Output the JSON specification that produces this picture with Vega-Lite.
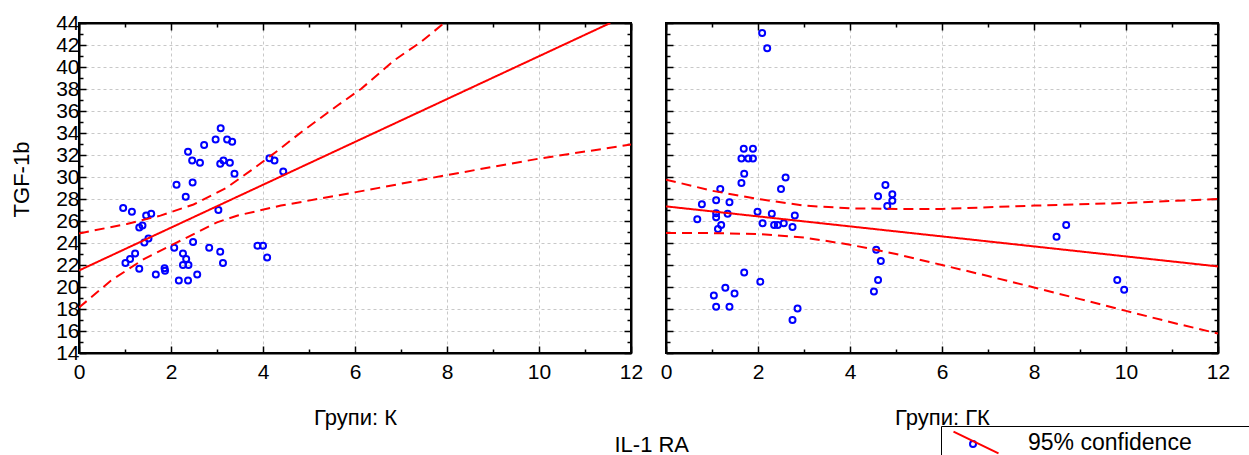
{
  "$schema": "https://vega.github.io/schema/vega-lite/v6.json",
  "background": "white",
  "padding": {"left": 5, "top": 11, "right": 5, "bottom": 5},
  "autosize": {"type": "pad"},
  "title": {"text": "IL-1 RA", "orient": "bottom", "anchor": "middle", "font": "Liberation Sans", "fontSize": 22, "fontWeight": "normal", "color": "black", "offset": -29, "dx": 8},
  "spacing": 15,
  "datasets": {
    "ptsK": [
      {"x": 3.08, "y": 34.44}, {"x": 2.97, "y": 33.4}, {"x": 3.22, "y": 33.4}, {"x": 3.33, "y": 33.2}, {"x": 2.72, "y": 32.9},
      {"x": 2.37, "y": 32.3}, {"x": 2.46, "y": 31.5}, {"x": 2.63, "y": 31.3}, {"x": 3.07, "y": 31.2}, {"x": 3.14, "y": 31.5},
      {"x": 3.28, "y": 31.3}, {"x": 4.14, "y": 31.7}, {"x": 4.25, "y": 31.5}, {"x": 3.38, "y": 30.3}, {"x": 4.44, "y": 30.5},
      {"x": 2.12, "y": 29.3}, {"x": 2.47, "y": 29.5}, {"x": 2.32, "y": 28.2}, {"x": 0.96, "y": 27.19}, {"x": 1.15, "y": 26.85},
      {"x": 1.46, "y": 26.5}, {"x": 1.57, "y": 26.67}, {"x": 3.03, "y": 27.0}, {"x": 1.31, "y": 25.42}, {"x": 1.38, "y": 25.6},
      {"x": 1.51, "y": 24.42}, {"x": 1.42, "y": 24.05}, {"x": 2.48, "y": 24.1}, {"x": 2.07, "y": 23.57}, {"x": 2.83, "y": 23.57},
      {"x": 3.07, "y": 23.2}, {"x": 2.26, "y": 23.05}, {"x": 3.88, "y": 23.75}, {"x": 4.0, "y": 23.75}, {"x": 1.22, "y": 23.05},
      {"x": 1.11, "y": 22.54}, {"x": 1.01, "y": 22.18}, {"x": 2.33, "y": 22.54}, {"x": 2.26, "y": 22.0}, {"x": 2.38, "y": 22.0},
      {"x": 3.13, "y": 22.18}, {"x": 4.09, "y": 22.69}, {"x": 1.31, "y": 21.66}, {"x": 1.67, "y": 21.14}, {"x": 1.86, "y": 21.7},
      {"x": 1.87, "y": 21.48}, {"x": 2.57, "y": 21.14}, {"x": 2.17, "y": 20.6}, {"x": 2.37, "y": 20.6}
    ],
    "ptsGK": [
      {"x": 2.09, "y": 43.09}, {"x": 2.2, "y": 41.7}, {"x": 1.69, "y": 32.56}, {"x": 1.89, "y": 32.56}, {"x": 1.64, "y": 31.68},
      {"x": 1.79, "y": 31.68}, {"x": 1.89, "y": 31.68}, {"x": 1.7, "y": 30.3}, {"x": 1.64, "y": 29.46}, {"x": 2.6, "y": 29.95},
      {"x": 2.5, "y": 28.9}, {"x": 1.18, "y": 28.9}, {"x": 4.77, "y": 29.28}, {"x": 4.61, "y": 28.24}, {"x": 4.92, "y": 28.43},
      {"x": 0.78, "y": 27.52}, {"x": 1.09, "y": 27.88}, {"x": 1.38, "y": 27.7}, {"x": 4.92, "y": 27.85}, {"x": 4.81, "y": 27.37},
      {"x": 0.68, "y": 26.15}, {"x": 1.09, "y": 26.7}, {"x": 1.09, "y": 26.33}, {"x": 1.34, "y": 26.67}, {"x": 1.2, "y": 25.64},
      {"x": 1.13, "y": 25.27}, {"x": 1.99, "y": 26.85}, {"x": 2.1, "y": 25.79}, {"x": 2.3, "y": 26.67}, {"x": 2.35, "y": 25.64},
      {"x": 2.43, "y": 25.64}, {"x": 2.56, "y": 25.79}, {"x": 2.75, "y": 25.46}, {"x": 2.8, "y": 26.51}, {"x": 4.57, "y": 23.39},
      {"x": 4.67, "y": 22.36}, {"x": 1.7, "y": 21.32}, {"x": 2.05, "y": 20.48}, {"x": 4.61, "y": 20.63}, {"x": 4.52, "y": 19.59},
      {"x": 1.29, "y": 19.93}, {"x": 1.49, "y": 19.41}, {"x": 1.04, "y": 19.23}, {"x": 1.09, "y": 18.2}, {"x": 1.38, "y": 18.2},
      {"x": 2.86, "y": 18.04}, {"x": 2.75, "y": 16.99}, {"x": 8.7, "y": 25.64}, {"x": 8.49, "y": 24.57}, {"x": 9.81, "y": 20.63},
      {"x": 9.96, "y": 19.75}
    ],
    "lineK": [
      {"kind": "fit", "x": 0, "y": 21.5}, {"kind": "fit", "x": 11.55, "y": 44.0},
      {"kind": "hi", "x": 0, "y": 24.87}, {"kind": "hi", "x": 1.04, "y": 25.73}, {"kind": "hi", "x": 1.77, "y": 26.49},
      {"kind": "hi", "x": 2.49, "y": 27.5}, {"kind": "hi", "x": 3.2, "y": 29.0}, {"kind": "hi", "x": 3.74, "y": 30.6},
      {"kind": "hi", "x": 4.32, "y": 32.4}, {"kind": "hi", "x": 4.83, "y": 34.07}, {"kind": "hi", "x": 5.62, "y": 36.5},
      {"kind": "hi", "x": 6.13, "y": 38.0}, {"kind": "hi", "x": 6.85, "y": 40.6}, {"kind": "hi", "x": 7.43, "y": 42.27},
      {"kind": "hi", "x": 7.94, "y": 44.0},
      {"kind": "lo", "x": 0, "y": 18.13}, {"kind": "lo", "x": 0.69, "y": 20.57}, {"kind": "lo", "x": 1.41, "y": 22.54},
      {"kind": "lo", "x": 2.13, "y": 24.05}, {"kind": "lo", "x": 3.0, "y": 25.88}, {"kind": "lo", "x": 3.45, "y": 26.5},
      {"kind": "lo", "x": 4.39, "y": 27.4}, {"kind": "lo", "x": 5.19, "y": 28.0}, {"kind": "lo", "x": 6.2, "y": 28.76},
      {"kind": "lo", "x": 7.94, "y": 30.13}, {"kind": "lo", "x": 9.97, "y": 31.65}, {"kind": "lo", "x": 12, "y": 32.95}
    ],
    "lineGK": [
      {"kind": "fit", "x": 0, "y": 27.33}, {"kind": "fit", "x": 12, "y": 21.87},
      {"kind": "hi", "x": 0, "y": 29.76}, {"kind": "hi", "x": 1, "y": 28.75}, {"kind": "hi", "x": 2, "y": 28.0},
      {"kind": "hi", "x": 3, "y": 27.4}, {"kind": "hi", "x": 4, "y": 27.15}, {"kind": "hi", "x": 5, "y": 27.1},
      {"kind": "hi", "x": 6, "y": 27.1}, {"kind": "hi", "x": 8, "y": 27.4}, {"kind": "hi", "x": 10, "y": 27.64},
      {"kind": "hi", "x": 12, "y": 28.0},
      {"kind": "lo", "x": 0, "y": 24.91}, {"kind": "lo", "x": 1, "y": 24.9}, {"kind": "lo", "x": 2, "y": 24.82},
      {"kind": "lo", "x": 3, "y": 24.5}, {"kind": "lo", "x": 4, "y": 23.85}, {"kind": "lo", "x": 5, "y": 23.0},
      {"kind": "lo", "x": 6, "y": 22.0}, {"kind": "lo", "x": 7, "y": 21.0}, {"kind": "lo", "x": 8, "y": 19.96},
      {"kind": "lo", "x": 9, "y": 18.9}, {"kind": "lo", "x": 10, "y": 17.83}, {"kind": "lo", "x": 11, "y": 16.77},
      {"kind": "lo", "x": 12, "y": 15.77}
    ]
  },
  "hconcat": [
    {
      "width": 552,
      "height": 330,
      "resolve": {"axis": {"x": "independent", "y": "independent"}},
      "layer": [
        {
          "data": {"name": "ptsK"},
          "mark": {"type": "point", "shape": "circle", "color": "#0000ff", "strokeWidth": 2, "size": 36, "opacity": 1},
          "encoding": {
            "x": {"field": "x", "type": "quantitative", "scale": {"domain": [0, 12], "nice": false, "zero": false},
              "axis": {"orient": "bottom", "values": [0,1,2,3,4,5,6,7,8,9,10,11,12], "labelExpr": "datum.value % 2 == 0 ? datum.label : ''",
                "tickSize": {"condition": {"test": "datum.value % 2 == 0", "value": -7}, "value": -4},
                "gridOpacity": {"condition": {"test": "datum.value % 2 == 0", "value": 1}, "value": 0},
                "labelPadding": 15, "labelFlush": false, "labelOverlap": false,
                "title": "Групи: К", "titleY": 64, "titleBaseline": "middle"}},
            "y": {"field": "y", "type": "quantitative", "scale": {"domain": [14, 44], "nice": false, "zero": false},
              "axis": {"orient": "left", "values": [14,15,16,17,18,19,20,21,22,23,24,25,26,27,28,29,30,31,32,33,34,35,36,37,38,39,40,41,42,43,44],
                "labelExpr": "datum.value % 2 == 0 ? datum.label : ''",
                "tickSize": {"condition": {"test": "datum.value % 2 == 0", "value": -7}, "value": -4},
                "gridOpacity": {"condition": {"test": "datum.value % 2 == 0", "value": 1}, "value": 0},
                "labelPadding": 7, "labelFlush": false, "labelOverlap": false, "labelBaseline": "middle",
                "title": "TGF-1b", "titleX": -58, "titleY": 156, "titleAngle": -90, "titleBaseline": "middle", "titleAlign": "center",
                "minExtent": 73, "maxExtent": 73}},
            "shape": {"datum": " ", "type": "nominal", "scale": {"range": ["circle"]},
              "legend": {"orient": "none", "legendX": 890, "legendY": 417, "title": null, "padding": 0, "symbolSize": 36, "symbolStrokeWidth": 2, "symbolStrokeColor": "#0000ff", "symbolFillColor": "transparent", "labelFontSize": 1}}
          }
        },
        {
          "data": {"name": "lineK"},
          "mark": {"type": "line", "clip": true, "strokeWidth": 2},
          "encoding": {
            "x": {"field": "x", "type": "quantitative", "scale": {"domain": [0, 12], "nice": false, "zero": false},
              "axis": {"orient": "top", "values": [0,1,2,3,4,5,6,7,8,9,10,11,12], "labels": false, "title": null, "grid": false,
                "tickSize": {"condition": {"test": "datum.value % 2 == 0", "value": -7}, "value": -4}, "minExtent": 0, "maxExtent": 0}},
            "y": {"field": "y", "type": "quantitative", "scale": {"domain": [14, 44], "nice": false, "zero": false},
              "axis": {"orient": "right", "values": [14,15,16,17,18,19,20,21,22,23,24,25,26,27,28,29,30,31,32,33,34,35,36,37,38,39,40,41,42,43,44], "labels": false, "title": null, "grid": false,
                "tickSize": {"condition": {"test": "datum.value % 2 == 0", "value": -7}, "value": -4}, "minExtent": 0, "maxExtent": 0}},
            "strokeDash": {"field": "kind", "type": "nominal", "scale": {"domain": ["fit", "lo", "hi"], "range": [[1, 0], [10, 6], [10, 6]]}, "legend": null},
            "color": {"datum": "95% confidence\u2800\u2800\u2800\u2800\u2800", "type": "nominal", "scale": {"range": ["#ff0000"]},
              "legend": {"orient": "none", "legendX": 862, "legendY": 403, "title": null, "padding": 5, "symbolType": "M-0.4,-1.09L4.1,1.08", "symbolSize": 400, "symbolStrokeWidth": 2, "labelOffset": 59, "labelFontSize": 23, "labelFont": "Liberation Sans", "labelColor": "black", "labelLimit": 400, "strokeColor": "black"}}
          }
        }
      ]
    },
    {
      "width": 552,
      "height": 330,
      "resolve": {"axis": {"x": "independent", "y": "independent"}},
      "layer": [
        {
          "data": {"name": "ptsGK"},
          "mark": {"type": "point", "shape": "circle", "color": "#0000ff", "strokeWidth": 2, "size": 36, "opacity": 1},
          "encoding": {
            "x": {"field": "x", "type": "quantitative", "scale": {"domain": [0, 12], "nice": false, "zero": false},
              "axis": {"orient": "bottom", "values": [0,1,2,3,4,5,6,7,8,9,10,11,12], "labelExpr": "datum.value % 2 == 0 ? datum.label : ''",
                "tickSize": {"condition": {"test": "datum.value % 2 == 0", "value": -7}, "value": -4},
                "gridOpacity": {"condition": {"test": "datum.value % 2 == 0", "value": 1}, "value": 0},
                "labelPadding": 15, "labelFlush": false, "labelOverlap": false,
                "title": "Групи: ГК", "titleY": 64, "titleBaseline": "middle"}},
            "y": {"field": "y", "type": "quantitative", "scale": {"domain": [14, 44], "nice": false, "zero": false},
              "axis": {"orient": "left", "values": [14,15,16,17,18,19,20,21,22,23,24,25,26,27,28,29,30,31,32,33,34,35,36,37,38,39,40,41,42,43,44],
                "labels": false, "title": null,
                "tickSize": {"condition": {"test": "datum.value % 2 == 0", "value": -7}, "value": -4},
                "gridOpacity": {"condition": {"test": "datum.value % 2 == 0", "value": 1}, "value": 0},
                "minExtent": 0, "maxExtent": 0}},
            "shape": {"datum": " ", "type": "nominal", "scale": {"range": ["circle"]}}
          }
        },
        {
          "data": {"name": "lineGK"},
          "mark": {"type": "line", "clip": true, "strokeWidth": 2},
          "encoding": {
            "x": {"field": "x", "type": "quantitative", "scale": {"domain": [0, 12], "nice": false, "zero": false},
              "axis": {"orient": "top", "values": [0,1,2,3,4,5,6,7,8,9,10,11,12], "labels": false, "title": null, "grid": false,
                "tickSize": {"condition": {"test": "datum.value % 2 == 0", "value": -7}, "value": -4}, "minExtent": 0, "maxExtent": 0}},
            "y": {"field": "y", "type": "quantitative", "scale": {"domain": [14, 44], "nice": false, "zero": false},
              "axis": {"orient": "right", "values": [14,15,16,17,18,19,20,21,22,23,24,25,26,27,28,29,30,31,32,33,34,35,36,37,38,39,40,41,42,43,44], "labels": false, "title": null, "grid": false,
                "tickSize": {"condition": {"test": "datum.value % 2 == 0", "value": -7}, "value": -4}, "minExtent": 0, "maxExtent": 0}},
            "strokeDash": {"field": "kind", "type": "nominal", "scale": {"domain": ["fit", "lo", "hi"], "range": [[1, 0], [10, 6], [10, 6]]}, "legend": null},
            "color": {"datum": "95% confidence\u2800\u2800\u2800\u2800\u2800", "type": "nominal", "scale": {"range": ["#ff0000"]}}
          }
        }
      ]
    }
  ],
  "config": {
    "font": "Liberation Sans",
    "view": {"stroke": "black", "strokeWidth": 2},
    "axis": {
      "labelFont": "Liberation Sans", "labelFontSize": 21, "labelColor": "black",
      "titleFont": "Liberation Sans", "titleFontSize": 22, "titleFontWeight": "normal", "titleColor": "black",
      "domainColor": "black", "domainWidth": 2, "tickColor": "black", "tickWidth": 1.5,
      "grid": true, "gridColor": "#c8c8c8", "gridDash": [3, 3], "gridWidth": 1
    }
  }
}
